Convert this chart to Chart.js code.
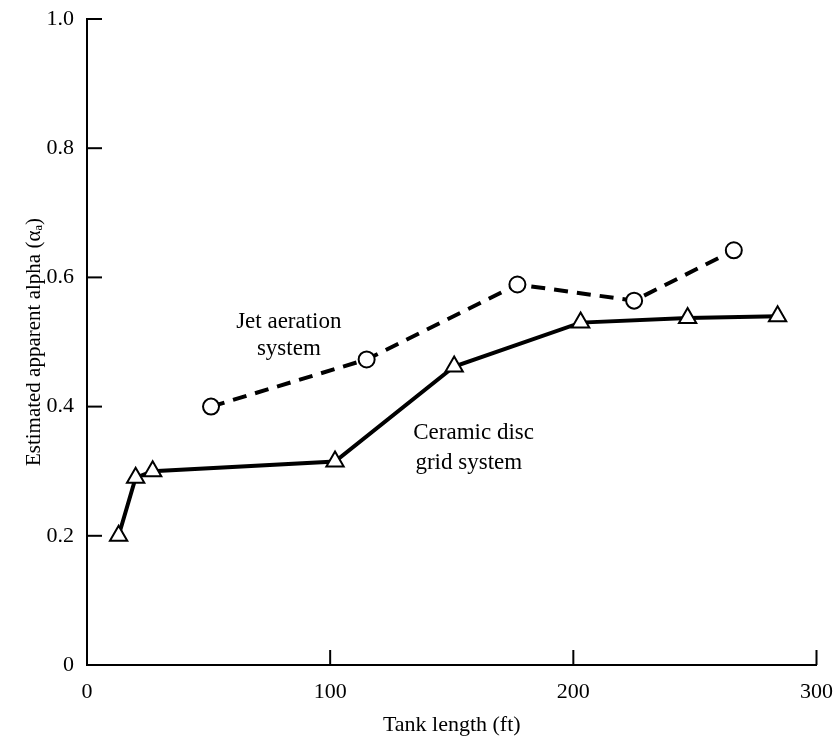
<!DOCTYPE html>
<html>
<head>
<meta charset="utf-8">
<script src="https://cdn.jsdelivr.net/npm/chart.js@4"></script>
<style>
  html, body { margin: 0; padding: 0; background: #fff; }
  #wrap { width: 839px; height: 738px; }
</style>
</head>
<body>
<div id="wrap"><canvas id="alphaChart" width="839" height="738"></canvas></div>
<script>
// tank length (ft) vs estimated apparent alpha
const ceramicX = [13, 20, 27, 102, 151, 203, 247, 284];
const ceramicY = [0.20, 0.29, 0.30, 0.315, 0.462, 0.530, 0.537, 0.540];
const jetX = [51, 115, 177, 225, 266];
const jetY = [0.400, 0.473, 0.589, 0.564, 0.642];
const xTicks = [0, 100, 200, 300];
const yTicks = [0, 0.2, 0.4, 0.6, 0.8, 1.0];

const serif = 'Liberation Serif';

const toPoints = (xs, ys) => xs.map((x, i) => ({ x: x, y: ys[i] }));

// small tick marks pointing into the plot, plus the curve labels
const insideTicks = {
  id: 'insideTicks',
  afterDraw(chart) {
    const ctx = chart.ctx;
    const xs = chart.scales.x, ys = chart.scales.y;
    const left = chart.chartArea.left, bottom = chart.chartArea.bottom;
    ctx.save();
    ctx.strokeStyle = '#000';
    ctx.lineWidth = 2;
    yTicks.forEach(v => {
      if (v === 0) return;
      const py = ys.getPixelForValue(v);
      ctx.beginPath();
      ctx.moveTo(left, py);
      ctx.lineTo(left + 15, py);
      ctx.stroke();
    });
    xTicks.forEach(v => {
      if (v === 0) return;
      const px = xs.getPixelForValue(v);
      ctx.beginPath();
      ctx.moveTo(px, bottom);
      ctx.lineTo(px, bottom - 15);
      ctx.stroke();
    });

    ctx.fillStyle = '#000';
    ctx.font = '23px "' + serif + '"';
    ctx.textAlign = 'center';
    ctx.textBaseline = 'middle';
    ctx.fillText('Jet aeration', xs.getPixelForValue(83), ys.getPixelForValue(0.531));
    ctx.fillText('system', xs.getPixelForValue(83), ys.getPixelForValue(0.489));
    ctx.fillText('Ceramic disc', xs.getPixelForValue(159), ys.getPixelForValue(0.359));
    ctx.fillText('grid system', xs.getPixelForValue(157), ys.getPixelForValue(0.313));
    ctx.restore();
  }
};

new Chart(document.getElementById('alphaChart').getContext('2d'), {
  type: 'scatter',
  data: {
    datasets: [
      {
        label: 'Ceramic disc grid system',
        data: toPoints(ceramicX, ceramicY),
        showLine: true,
        borderColor: '#000',
        borderWidth: 4,
        pointStyle: 'triangle',
        pointRadius: 10,
        pointBorderWidth: 2,
        pointBackgroundColor: '#fff',
        pointBorderColor: '#000'
      },
      {
        label: 'Jet aeration system',
        data: toPoints(jetX, jetY),
        showLine: true,
        borderColor: '#000',
        borderWidth: 4,
        borderDash: [14, 9],
        pointStyle: 'circle',
        pointRadius: 8,
        pointBorderWidth: 2,
        pointBackgroundColor: '#fff',
        pointBorderColor: '#000'
      }
    ]
  },
  options: {
    responsive: false,
    animation: false,
    layout: { padding: { top: 19, right: 20, bottom: 0, left: 0 } },
    plugins: { legend: { display: false }, tooltip: { enabled: false } },
    scales: {
      x: {
        type: 'linear',
        min: 0, max: 300,
        afterBuildTicks: s => { s.ticks = xTicks.map(v => ({ value: v })); },
        afterFit: s => { s.height = 73; },
        grid: { display: false },
        border: { display: true, color: '#000', width: 2 },
        ticks: { color: '#000', padding: 6, font: { family: serif, size: 22 } },
        title: {
          display: true,
          text: 'Tank length (ft)',
          color: '#000',
          font: { family: serif, size: 22 },
          padding: { top: 8, bottom: 0 }
        }
      },
      y: {
        type: 'linear',
        min: 0, max: 1,
        afterBuildTicks: s => { s.ticks = yTicks.map(v => ({ value: v })); },
        afterFit: s => { s.width = 87; },
        grid: { display: false },
        border: { display: true, color: '#000', width: 2 },
        ticks: {
          color: '#000', padding: 5, font: { family: serif, size: 22 },
          callback: v => (v === 0 ? '0' : v.toFixed(1))
        },
        title: {
          display: true,
          text: 'Estimated apparent alpha (αₐ)',
          color: '#000',
          font: { family: serif, size: 21 },
          padding: { top: 22, bottom: 0 }
        }
      }
    }
  },
  plugins: [insideTicks]
});
</script>
</body>
</html>
